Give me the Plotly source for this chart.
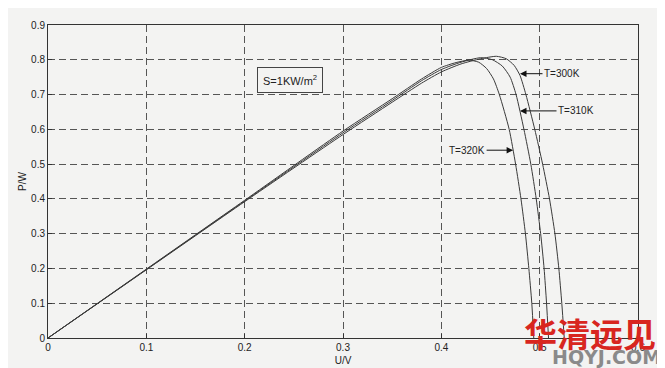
import plotly.graph_objects as go

# Data (U in V, P in W)
u_300 = [0, 0.1, 0.2, 0.3, 0.35, 0.38, 0.4, 0.42, 0.44, 0.456, 0.466, 0.474, 0.480, 0.486, 0.495, 0.503, 0.510, 0.5155, 0.5195, 0.5225, 0.525]
p_300 = [0, 0.196, 0.392, 0.585, 0.678, 0.733, 0.765, 0.788, 0.803, 0.810, 0.803, 0.784, 0.755, 0.700, 0.600, 0.500, 0.400, 0.300, 0.200, 0.100, 0]

u_310 = [0, 0.1, 0.2, 0.3, 0.35, 0.38, 0.4, 0.42, 0.44, 0.452, 0.462, 0.470, 0.476, 0.484, 0.491, 0.4965, 0.501, 0.5045, 0.507, 0.509]
p_310 = [0, 0.197, 0.394, 0.590, 0.683, 0.740, 0.772, 0.793, 0.806, 0.800, 0.782, 0.750, 0.700, 0.600, 0.500, 0.400, 0.300, 0.200, 0.100, 0]

u_320 = [0, 0.1, 0.2, 0.3, 0.35, 0.38, 0.4, 0.415, 0.428, 0.438, 0.446, 0.453, 0.459, 0.469, 0.4755, 0.481, 0.4855, 0.489, 0.492, 0.494]
p_320 = [0, 0.198, 0.396, 0.595, 0.688, 0.745, 0.778, 0.792, 0.799, 0.793, 0.775, 0.745, 0.700, 0.600, 0.500, 0.400, 0.300, 0.200, 0.100, 0]

x_ticks = [0, 0.1, 0.2, 0.3, 0.4, 0.5, 0.6]
x_tick_labels = ["0", "0.1", "0.2", "0.3", "0.4", "0.5", "0.6"]
y_ticks = [0, 0.1, 0.2, 0.3, 0.4, 0.5, 0.6, 0.7, 0.8, 0.9]
y_tick_labels = ["0", "0.1", "0.2", "0.3", "0.4", "0.5", "0.6", "0.7", "0.8", "0.9"]

line_color = "#3a3a3a"
fig = go.Figure()
for u, p, name in [(u_300, p_300, "T=300K"), (u_310, p_310, "T=310K"), (u_320, p_320, "T=320K")]:
    fig.add_trace(go.Scatter(x=u, y=p, mode="lines", name=name,
                             line=dict(color=line_color, width=1, shape="spline", smoothing=0.6)))

font = dict(family="Liberation Sans, Arial, sans-serif", size=10, color="#222")
axis_common = dict(showline=True, linecolor="#333", linewidth=1, mirror=True,
                   showgrid=True, gridcolor="#555", gridwidth=1, griddash="7px,4px",
                   zeroline=False, ticks="inside", ticklen=4, tickcolor="#333",
                   tickfont=font, automargin=False)

# The page body adds an 8px offset, so the figure is sized 657x360
fig.update_layout(
    width=657, height=360,
    margin=dict(l=40, r=27, t=17, b=30),
    paper_bgcolor="#f3f3f2", plot_bgcolor="#f3f3f2",
    showlegend=False,
    font=font,
    xaxis=dict(range=[0, 0.6], tickvals=x_ticks, ticktext=x_tick_labels,
               title=dict(text="U/V", font=font, standoff=4), **axis_common),
    yaxis=dict(range=[0, 0.9], tickvals=y_ticks, ticktext=y_tick_labels,
               title=dict(text="P/W", font=font, standoff=2), **axis_common),
)

# Label box
fig.add_annotation(x=0.246, y=0.742, xref="x", yref="y", text="S=1KW/m<sup>2</sup>",
                   showarrow=False, font=dict(family=font["family"], size=11, color="#222"),
                   bordercolor="#444", borderwidth=1,
                   borderpad=5, bgcolor="rgba(0,0,0,0)")

# Arrow labels
arrow_style = dict(showarrow=True, arrowhead=2, arrowsize=1.3, arrowwidth=1,
                   arrowcolor="#111", font=font, xref="x", yref="y")
fig.add_annotation(x=0.480, y=0.760, text="T=300K", ax=42, ay=0, **arrow_style)
fig.add_annotation(x=0.480, y=0.653, text="T=310K", ax=56, ay=0, **arrow_style)
fig.add_annotation(x=0.473, y=0.540, text="T=320K", ax=-46, ay=0, **arrow_style)

# Watermark
fig.add_annotation(x=0.803, y=0.10, xref="paper", yref="paper", xanchor="left", yanchor="top",
                   text="华清远见", showarrow=False,
                   font=dict(family="Noto Sans CJK SC", size=33, color="#d8261f", weight="bold"))
fig.add_annotation(x=0.85, y=-0.02, xref="paper", yref="paper", xanchor="left", yanchor="top",
                   text="<b>HQYJ.COM</b>", showarrow=False,
                   font=dict(family="DejaVu Sans", size=19, color="#8a8a8a"))

fig.write_html("out.html")
